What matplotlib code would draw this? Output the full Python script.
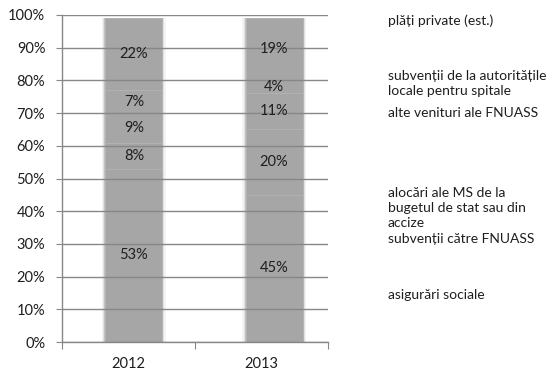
import matplotlib.pyplot as plt
import numpy as np

YEARS = ["2012", "2013"]
SOURCES = [
  "asigurări sociale",
  "subvenții către FNUASS",
  "alocări ale MS de la\nbugetul de stat sau din\naccize",
  "alte venituri ale FNUASS",
  "subvenții de la autoritățile\nlocale pentru spitale",
  "plăți private (est.)",
]
SHARE_2012 = [53, 8, 9, 7, 0, 22]
SHARE_2013 = [45, 20, 11, 4, 0, 19]
Y_TICKS = [0, 10, 20, 30, 40, 50, 60, 70, 80, 90, 100]

# layout (pixels in a 549x373 figure)
W, H = 549, 373
LEGEND_X = 388
LEGEND_Y = [295, 239, 193, 113, 76, 21]   # centre of first line of each entry
LINE_STEP = 15
BAR_X = [0.54, 1.595]
BAR_W = 0.43
GRID = "#878787"
BAR = "#a6a6a6"


def main():
  plt.rcParams["font.family"] = ["Lato", "DejaVu Sans"]
  plt.rcParams["font.size"] = 10

  fig = plt.figure(figsize=(W / 100, H / 100), dpi=100)
  ax = fig.add_axes([62 / W, (H - 342) / H, (328 - 62) / W, (342 - 15) / H])

  shares = np.array([SHARE_2012, SHARE_2013], dtype=float)
  totals = shares.sum(axis=1)

  # soft halo around each bar
  for grow, alpha in [(0.05, 0.12), (0.03, 0.25), (0.012, 0.5)]:
    ax.bar(BAR_X, totals, width=BAR_W + grow, color=BAR, alpha=alpha,
           linewidth=0, zorder=1)

  bottom = np.zeros(len(YEARS))
  for i, name in enumerate(SOURCES):
    vals = shares[:, i]
    ax.bar(BAR_X, vals, width=BAR_W, bottom=bottom, color=BAR,
           edgecolor="#b3b3b3", linewidth=0.6, zorder=2)
    for x, b, v in zip(BAR_X, bottom, vals):
      if v > 0:
        ax.text(x, b + v / 2, f"{v:.0f}%", ha="center", va="center",
                color="#1e1e1e", fontsize=10.5, zorder=4)
    bottom += vals

  ax.set_xlim(0, 2)
  ax.set_ylim(0, 100)
  ax.set_yticks(Y_TICKS)
  ax.set_yticklabels([f"{t}%" for t in Y_TICKS])
  ax.yaxis.grid(True, color=GRID, linewidth=1.0, zorder=3)
  ax.set_axisbelow(False)

  ax.set_xticks([0, 1, 2])
  ax.set_xticklabels([])
  ax.set_xticks([0.5, 1.5], minor=True)
  ax.set_xticklabels(YEARS, minor=True)
  ax.tick_params(axis="x", which="major", length=5, color=GRID, direction="out")
  ax.tick_params(axis="x", which="minor", length=0, pad=11, labelsize=10.5,
                 labelcolor="#1e1e1e")
  ax.tick_params(axis="y", length=4, color=GRID, pad=8, labelsize=10.5,
                 labelcolor="#1e1e1e")

  for side in ["top", "right"]:
    ax.spines[side].set_visible(False)
  for side in ["left", "bottom"]:
    ax.spines[side].set_color(GRID)
    ax.spines[side].set_linewidth(1.0)
    ax.spines[side].set_zorder(3)

  # text-only legend on the right
  for name, y0 in zip(SOURCES, LEGEND_Y):
    for k, line in enumerate(name.split("\n")):
      fig.text(LEGEND_X / W, 1 - (y0 + k * LINE_STEP) / H, line,
               ha="left", va="center", fontsize=10, color="#1e1e1e")

  fig.savefig("out.png", dpi=100)


if __name__ == "__main__":
  main()
